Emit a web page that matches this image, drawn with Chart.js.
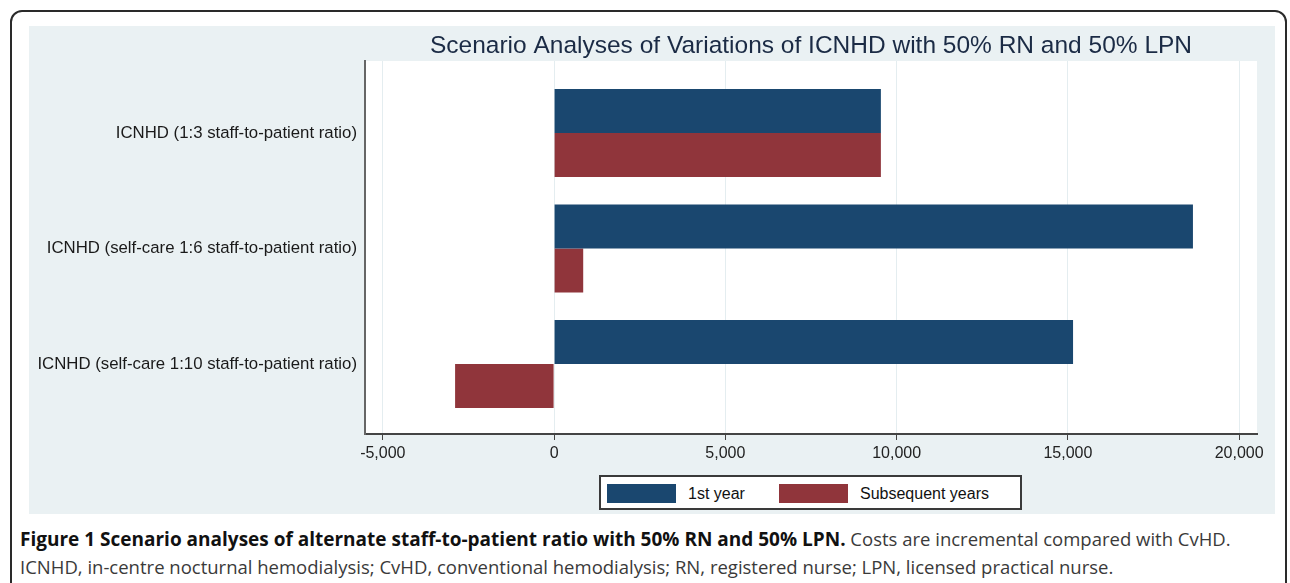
<!DOCTYPE html>
<html>
<head>
<meta charset="utf-8">
<script src="https://cdn.jsdelivr.net/npm/chart.js@4"></script>
<style>
  body { margin: 0; background: #fff; width: 1290px; height: 583px; overflow: hidden; position: relative; }
  #frame { position: absolute; left: 10px; top: 10px; width: 1277px; height: 620px; border: 2px solid #2a2a2a; border-radius: 12px; box-sizing: border-box; }
  #panel { position: absolute; left: 29px; top: 26px; width: 1246px; height: 488px; background: #eaf1f3; }
  #legend { position: absolute; left: 599px; top: 475px; width: 423px; height: 35px; box-sizing: border-box; border: 2px solid #3a3a3a; background: #fff; font: 16px "Liberation Sans", Arial, sans-serif; color: #111; }
  #legend .sw { position: absolute; top: 7px; width: 69px; height: 19px; }
  #legend .lb { position: absolute; top: 8px; }
  #caption { position: absolute; left: 20px; top: 525px; width: 1270px; white-space: nowrap; font-family: "Open Sans", sans-serif; font-size: 18.5px; color: #3a3a3a; line-height: 27px; }
  #caption b { color: #111; font-size: 19px; }
</style>
</head>
<body>
<div id="frame"></div>
<div id="panel"><canvas id="grafico" width="1246" height="488"></canvas></div>
<div id="legend"></div>
<div id="caption">
  <div><b>Figure 1 Scenario analyses of alternate staff-to-patient ratio with 50% RN and 50% LPN.</b> Costs are incremental compared with CvHD.</div>
  <div>ICNHD, in-centre nocturnal hemodialysis; CvHD, conventional hemodialysis; RN, registered nurse; LPN, licensed practical nurse.</div>
</div>
<script>
// Dados do gráfico
const categorias = [
    'ICNHD (1:3 staff-to-patient ratio)',
    'ICNHD (self-care 1:6 staff-to-patient ratio)',
    'ICNHD (self-care 1:10 staff-to-patient ratio)'
];
const primeiroAno = [9540, 18650, 15150];
const anosSeguintes = [9540, 850, -2890];
const seriesNomes = ['1st year', 'Subsequent years'];
const xTicks = [-5000, 0, 5000, 10000, 15000, 20000];

const titulo = 'Scenario Analyses of Variations of ICNHD with 50% RN and 50% LPN';
const fonte = '"Liberation Sans", Arial, sans-serif';

// Fundo branco da área do gráfico + título centrado
const plotBg = {
    id: 'plotBg',
    beforeDraw(chart) {
        const { ctx, chartArea: a } = chart;
        ctx.save();
        ctx.fillStyle = '#fff';
        ctx.fillRect(a.left, a.top, a.right - a.left, a.bottom - a.top);
        ctx.fillStyle = '#1b2b45';
        ctx.font = '24.5px ' + fonte;
        ctx.textAlign = 'center';
        ctx.textBaseline = 'middle';
        ctx.fillText(titulo, (a.left + a.right) / 2, 20);
        ctx.restore();
    }
};

const paraPontos = arr => arr.map((v, i) => ({ x: v, y: i }));

const chart = new Chart(document.getElementById('grafico'), {
    type: 'bar',
    data: {
        datasets: [
            { label: seriesNomes[0], data: paraPontos(primeiroAno), backgroundColor: 'rgb(26,71,111)' },
            { label: seriesNomes[1], data: paraPontos(anosSeguintes), backgroundColor: 'rgb(144,53,59)' }
        ]
    },
    options: {
        indexAxis: 'y',
        responsive: false,
        animation: false,
        devicePixelRatio: 1,
        layout: { padding: { top: 35, right: 18, left: 0, bottom: 0 } },
        datasets: { bar: { barPercentage: 1, categoryPercentage: 0.762 } },
        plugins: { legend: { display: false }, tooltip: { enabled: false } },
        scales: {
            x: {
                type: 'linear',
                min: -5520,
                max: 20520,
                offset: false,
                afterBuildTicks: s => { s.ticks = xTicks.map(v => ({ value: v })); },
                afterFit: s => { s.height = 80; },
                ticks: {
                    includeBounds: false,
                    color: '#222',
                    font: { family: fonte, size: 16 },
                    padding: 4,
                    callback: v => v.toLocaleString('en-US')
                },
                grid: { color: '#e4edf0', lineWidth: 1, tickLength: 6, tickColor: '#444' },
                border: { color: '#444', width: 2 }
            },
            y: {
                type: 'linear',
                reverse: true,
                offset: false,
                min: -0.623,
                max: 2.606,
                afterBuildTicks: s => { s.ticks = categorias.map((c, i) => ({ value: i })); },
                afterFit: s => { s.width = 336; },
                ticks: {
                    color: '#1a1a1a',
                    font: { family: fonte, size: 16.8 },
                    padding: 8,
                    callback: v => categorias[v] || ''
                },
                grid: { display: false, drawTicks: false, offset: false },
                border: { display: true, color: '#666', width: 2 }
            }
        }
    },
    plugins: [plotBg]
});

// Legenda HTML
const legenda = document.getElementById('legend');
const posicoes = [[6, 87], [178, 259]];
chart.data.datasets.forEach((ds, i) => {
    const sw = document.createElement('div');
    sw.className = 'sw';
    sw.style.left = posicoes[i][0] + 'px';
    sw.style.background = ds.backgroundColor;
    const lb = document.createElement('div');
    lb.className = 'lb';
    lb.style.left = posicoes[i][1] + 'px';
    lb.textContent = ds.label;
    legenda.appendChild(sw);
    legenda.appendChild(lb);
});
</script>
</body>
</html>
